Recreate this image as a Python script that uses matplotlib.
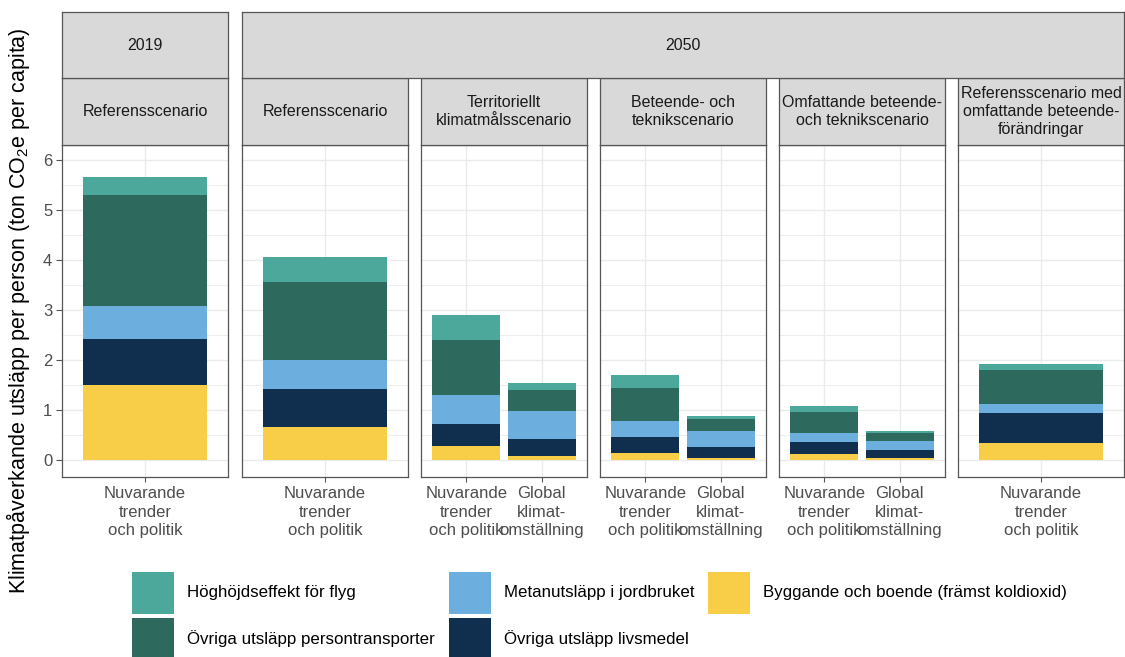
import matplotlib
matplotlib.use("Agg")
import matplotlib.pyplot as plt
from matplotlib.patches import Rectangle

plt.rcParams['font.family'] = ['Liberation Sans', 'DejaVu Sans']
plt.rcParams['mathtext.fontset'] = 'custom'
plt.rcParams['mathtext.rm'] = 'Liberation Sans'

# ---------------- data ----------------
years = ["2019", "2050"]
scenarios = ["Referensscenario", "Referensscenario", "Territoriellt\nklimatmålsscenario",
             "Beteende- och\nteknikscenario", "Omfattande beteende-\noch teknikscenario",
             "Referensscenario med\nomfattande beteende-\nförändringar"]
scenario_year = [0, 1, 1, 1, 1, 1]
panel_categories = [
    ["Nuvarande\ntrender\noch politik"],
    ["Nuvarande\ntrender\noch politik"],
    ["Nuvarande\ntrender\noch politik", "Global\nklimat-\nomställning"],
    ["Nuvarande\ntrender\noch politik", "Global\nklimat-\nomställning"],
    ["Nuvarande\ntrender\noch politik", "Global\nklimat-\nomställning"],
    ["Nuvarande\ntrender\noch politik"],
]
# stacked series, bottom to top; one value per bar (panels in order)
byggande = [1.51, 0.66, 0.29, 0.09, 0.15, 0.05, 0.13, 0.04, 0.34]
livsmedel = [0.92, 0.77, 0.44, 0.34, 0.32, 0.21, 0.24, 0.17, 0.61]
metan = [0.66, 0.58, 0.58, 0.55, 0.32, 0.32, 0.18, 0.17, 0.18]
persontransport = [2.21, 1.55, 1.10, 0.42, 0.66, 0.24, 0.41, 0.17, 0.67]
hoghojd = [0.35, 0.50, 0.50, 0.15, 0.25, 0.07, 0.13, 0.04, 0.13]

series_names = ["Byggande och boende (främst koldioxid)", "Övriga utsläpp livsmedel",
                "Metanutsläpp i jordbruket", "Övriga utsläpp persontransporter",
                "Höghöjdseffekt för flyg"]
series_values = [byggande, livsmedel, metan, persontransport, hoghojd]
series_colors = ["#F8CD48", "#102F4E", "#6CAEDE", "#2D695C", "#4BA89B"]

y_ticks = [0, 1, 2, 3, 4, 5, 6]

# ---------------- layout ----------------
W, H = 1125, 657
fig = plt.figure(figsize=(W / 100, H / 100), dpi=100)

def fx(p):
    return p / W

def fy(p):
    return 1 - p / H

panel_left = [62, 242, 421, 600, 779, 958]
panel_w = 166
p_top, p_bot = 145, 477
s2_top = 78
s1_top = 12
border_col = "#555555"
strip_fill = "#D9D9D9"
grid_col = "#EBEBEB"

axes = []
bar_idx = 0
for i, (left, cats) in enumerate(zip(panel_left, panel_categories)):
    ax = fig.add_axes([fx(left), fy(p_bot), fx(panel_w), (p_bot - p_top) / H])
    axes.append(ax)
    n = len(cats)
    xs = list(range(1, n + 1))
    bottoms = [0.0] * n
    for vals, col in zip(series_values, series_colors):
        v = vals[bar_idx:bar_idx + n]
        ax.bar(xs, v, width=0.9, bottom=bottoms, color=col, linewidth=0, zorder=3)
        bottoms = [b + a for b, a in zip(bottoms, v)]
    bar_idx += n
    ax.set_xlim(0.4, n + 0.6)
    ax.set_ylim(-0.34, 6.3)
    ax.set_xticks(xs)
    ax.set_xticklabels(cats, fontsize=12, color="#4D4D4D", linespacing=1.28)
    ax.set_yticks(y_ticks)
    ax.set_yticks([0.5, 1.5, 2.5, 3.5, 4.5, 5.5], minor=True)
    ax.grid(which="major", color=grid_col, linewidth=1.0, zorder=0)
    ax.grid(which="minor", axis="y", color=grid_col, linewidth=0.6, zorder=0)
    ax.set_axisbelow(True)
    ax.tick_params(axis="x", length=3.6, width=0.8, color=border_col, pad=3)
    ax.tick_params(axis="y", which="minor", length=0)
    if i == 0:
        ax.set_yticklabels([str(t) for t in y_ticks], fontsize=12, color="#4D4D4D")
        ax.tick_params(axis="y", which="major", length=4.0, width=0.8, color=border_col, pad=3)
    else:
        ax.tick_params(axis="y", which="major", length=0, labelleft=False)
    for s in ax.spines.values():
        s.set_color(border_col)
        s.set_linewidth(0.9)

def strip(x0, x1, y0, y1, text):
    sax = fig.add_axes([fx(x0), fy(y1), fx(x1 - x0), (y1 - y0) / H])
    sax.set_facecolor(strip_fill)
    sax.set_xticks([])
    sax.set_yticks([])
    for s in sax.spines.values():
        s.set_color(border_col)
        s.set_linewidth(0.9)
    sax.text(0.5, 0.5, text, ha="center", va="center", fontsize=11.5,
             color="#1A1A1A", transform=sax.transAxes, linespacing=1.22)

for i, left in enumerate(panel_left):
    strip(left, left + panel_w, s2_top, p_top, scenarios[i])

for yi, yname in enumerate(years):
    idx = [i for i, y in enumerate(scenario_year) if y == yi]
    strip(panel_left[idx[0]], panel_left[idx[-1]] + panel_w, s1_top, s2_top, yname)

fig.text(fx(18), fy((p_top + p_bot) / 2),
         "Klimatpåverkande utsläpp per person (ton CO$\\mathregular{_2}$e per capita)",
         rotation=90, ha="center", va="center", fontsize=15.5, color="black")

# ---------------- legend ----------------
legend_order = [4, 2, 0, 3, 1]
key_x = [132, 449, 708]
row_y = [572, 618]
key = 42
for k, si in enumerate(legend_order):
    r, c = k // 3, k % 3
    x0, y0 = key_x[c], row_y[r]
    fig.patches.append(Rectangle((fx(x0), fy(y0 + key)), fx(key), key / H,
                                 transform=fig.transFigure, facecolor=series_colors[si],
                                 edgecolor="none"))
    fig.text(fx(x0 + key + 13), fy(y0 + key / 2), series_names[si], ha="left",
             va="center", fontsize=12.2, color="black")

fig.savefig("out.png", dpi=100)
